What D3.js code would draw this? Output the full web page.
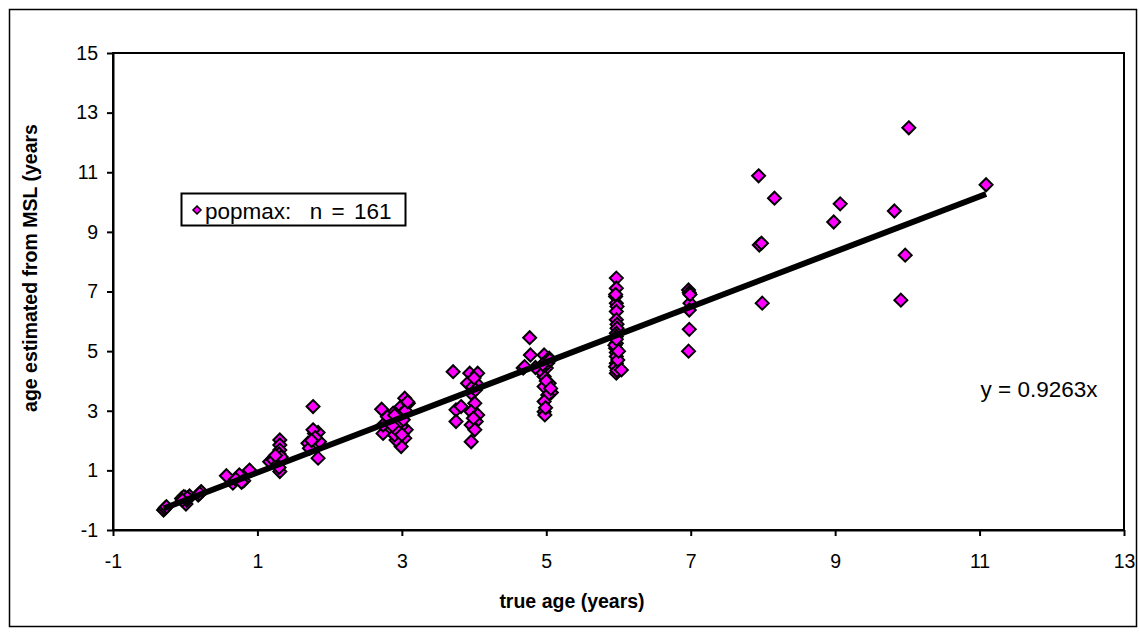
<!DOCTYPE html>
<html>
<head>
<meta charset="utf-8">
<script src="https://cdn.jsdelivr.net/npm/d3@7"></script>
<style>
  html, body { margin: 0; padding: 0; background: #fff; }
  svg { display: block; }
  text { font-family: "Liberation Sans", Arial, sans-serif; fill: #000; }
</style>
</head>
<body>
<svg id="chart" width="1139" height="635"></svg>
<script>
// ---- data ----
const xTicks = [-1, 1, 3, 5, 7, 9, 11, 13];
const yTicks = [-1, 1, 3, 5, 7, 9, 11, 13, 15];
const xDomain = [-1, 13];
const yDomain = [-1, 15];

const trueAge = [
  -0.30, -0.28, -0.26,
  -0.05, -0.03, 0.01, 0.06, 0.00, 0.02, -0.02, 0.04, 0.03, -0.04,
  0.18, 0.22, 0.20,
  0.57, 0.66, 0.75, 0.81, 0.89, 0.70, 0.78,
  1.17, 1.22, 1.22, 1.31, 1.31, 1.31, 1.30, 1.31, 1.31, 1.28, 1.33, 1.25, 1.30,
  1.77, 1.70, 1.79, 1.84, 1.84, 1.86, 1.77, 1.72, 1.80, 1.75,
  2.72, 2.78, 2.83, 2.74, 2.88, 2.95, 2.99, 3.04, 3.09, 2.92, 3.06, 3.04, 2.99, 2.92, 2.90, 2.99, 2.74, 2.85, 3.01,
  2.80, 2.97, 3.02, 2.95, 3.05, 2.87, 3.00, 2.90, 3.08,
  3.71, 3.94, 4.05, 3.91, 4.03, 3.96, 4.01, 3.75, 3.82, 3.75, 3.96, 4.05, 4.03, 3.96, 4.01, 3.96, 3.98, 4.00, 4.02, 3.99,
  4.77, 4.78, 4.68, 4.70, 4.97, 5.04, 5.00, 4.97, 5.04, 4.97, 5.07, 5.02, 4.97, 4.97, 4.98, 4.91, 4.85, 5.02, 5.00, 4.95, 5.05, 5.06, 4.99,
  5.97, 5.97, 5.96, 5.97, 5.98, 5.97, 5.97, 5.98, 5.98, 5.97, 5.97, 5.97, 5.96, 5.97, 5.97, 5.97, 5.96, 5.97, 5.98, 6.04, 5.95, 5.99, 5.96, 6.00, 5.97,
  6.97, 6.98, 6.99, 6.98, 6.98, 6.97, 6.99,
  7.94, 8.16, 7.95, 7.98, 7.99,
  9.07, 8.98,
  9.82, 9.97, 9.91, 10.02,
  11.09
];
const estimatedAge = [
  -0.33, -0.27, -0.22,
  0.06, 0.06, -0.13, 0.14, 0.10, 0.00, 0.12, 0.05, 0.08, 0.00,
  0.17, 0.29, 0.22,
  0.82, 0.57, 0.85, 0.65, 1.01, 0.70, 0.60,
  1.29, 1.40, 1.35, 2.02, 1.85, 1.68, 1.55, 1.35, 0.96, 1.20, 1.45, 1.50, 1.10,
  3.14, 1.91, 2.24, 1.41, 2.27, 1.96, 2.36, 1.74, 2.10, 2.00,
  3.05, 2.47, 2.36, 2.24, 2.92, 2.75, 3.14, 3.42, 3.25, 2.58, 2.36, 2.08, 1.80, 2.02, 2.19, 2.47, 2.52, 2.69, 2.92,
  2.80, 2.60, 2.70, 2.30, 3.00, 2.50, 2.20, 2.85, 3.30,
  4.31, 4.26, 4.26, 3.92, 3.92, 3.59, 3.25, 3.03, 3.14, 2.64, 2.97, 2.86, 2.64, 2.52, 2.36, 1.96, 3.80, 4.10, 3.70, 2.75,
  5.45, 4.87, 4.43, 4.48, 4.87, 4.76, 4.43, 4.15, 3.92, 3.81, 3.61, 3.53, 3.31, 2.97, 2.86, 4.37, 4.45, 4.60, 4.00, 4.55, 4.70, 3.75, 3.10,
  7.45, 7.11, 6.83, 6.61, 6.50, 6.33, 6.05, 5.90, 5.77, 5.60, 5.49, 5.26, 5.10, 4.95, 4.82, 4.59, 4.48, 4.26, 4.35, 4.37, 5.20, 4.70, 6.90, 5.00, 5.40,
  7.05, 6.96, 6.61, 6.38, 5.73, 5.00, 6.90,
  10.88, 10.13, 8.56, 8.62, 6.61,
  9.94, 9.33,
  9.70, 8.22, 6.71, 12.49,
  10.58
];
const slope = 0.9263;
const seriesName = "popmax:  n = 161";
const equationLabel = "y = 0.9263x";
const xTitle = "true age (years)";
const yTitle = "age estimated from MSL (years";

// ---- layout ----
const svg = d3.select("#chart");
const plot = { left: 113, right: 1124, top: 53, bottom: 530 };

const x = d3.scaleLinear().domain(xDomain).range([plot.left, plot.right]);
const y = d3.scaleLinear().domain(yDomain).range([plot.bottom, plot.top]);

// outer chart border
svg.append("rect")
  .attr("x", 9.5).attr("y", 9.5)
  .attr("width", 1127).attr("height", 617)
  .attr("fill", "none").attr("stroke", "#000").attr("stroke-width", 1.5);

// plot area border
svg.append("rect")
  .attr("x", plot.left).attr("y", plot.top)
  .attr("width", plot.right - plot.left).attr("height", plot.bottom - plot.top)
  .attr("fill", "none").attr("stroke", "#000").attr("stroke-width", 2);

// axes
const xAxis = svg.append("g")
  .attr("transform", `translate(0,${plot.bottom})`)
  .call(d3.axisBottom(x).tickValues(xTicks).tickFormat(d3.format("d"))
        .tickSize(6).tickSizeOuter(0).tickPadding(18));
const yAxis = svg.append("g")
  .attr("transform", `translate(${plot.left},0)`)
  .call(d3.axisLeft(y).tickValues(yTicks).tickFormat(d3.format("d"))
        .tickSize(6).tickSizeOuter(0).tickPadding(9));

[xAxis, yAxis].forEach(g => {
  g.select(".domain").attr("stroke", "#000").attr("stroke-width", 2);
  g.selectAll(".tick line").attr("stroke", "#000").attr("stroke-width", 2);
  g.selectAll(".tick text")
    .attr("font-family", "Liberation Sans, Arial, sans-serif")
    .attr("font-size", 19.5).attr("fill", "#000");
});
yAxis.selectAll(".tick text").text(d => d < 0 ? "-" + Math.abs(d) : d);
xAxis.selectAll(".tick text").text(d => d < 0 ? "-" + Math.abs(d) : d);

// axis titles
svg.append("text")
  .attr("x", 572).attr("y", 608)
  .attr("text-anchor", "middle")
  .attr("font-size", 19.5).attr("font-weight", "bold")
  .text(xTitle);

svg.append("text")
  .attr("transform", `translate(37,268) rotate(-90)`)
  .attr("text-anchor", "middle")
  .attr("font-size", 19.5).attr("font-weight", "bold")
  .text(yTitle);

// points
const pts = trueAge.map((d, i) => ({ x: d, y: estimatedAge[i] }));
const diamond = (cx, cy, w, h) => `M${cx},${cy - h}L${cx + w},${cy}L${cx},${cy + h}L${cx - w},${cy}Z`;

svg.append("g").selectAll("path")
  .data(pts).enter().append("path")
  .attr("d", d => diamond(x(d.x), y(d.y), 6.5, 6.5))
  .attr("fill", "#FF00FF")
  .attr("stroke", "#000").attr("stroke-width", 2);

// trendline y = slope * x through origin, across data range
const xMin = d3.min(trueAge), xMax = d3.max(trueAge);
svg.append("line")
  .attr("x1", x(xMin)).attr("y1", y(slope * xMin))
  .attr("x2", x(xMax)).attr("y2", y(slope * xMax))
  .attr("stroke", "#000").attr("stroke-width", 6);

// equation label
svg.append("text")
  .attr("x", 1039).attr("y", 397)
  .attr("text-anchor", "middle")
  .attr("font-size", 22.5)
  .text(equationLabel);

// legend
const lg = svg.append("g");
lg.append("rect")
  .attr("x", 181.5).attr("y", 193.5).attr("width", 224).attr("height", 32)
  .attr("fill", "#fff").attr("stroke", "#000").attr("stroke-width", 2);
lg.append("path")
  .attr("d", diamond(197, 210, 4, 4))
  .attr("fill", "#FF00FF").attr("stroke", "#000").attr("stroke-width", 1.5);
lg.append("text")
  .attr("x", 205).attr("y", 218.5)
  .attr("font-size", 22.5)
  .attr("word-spacing", 3)
  .attr("xml:space", "preserve")
  .style("white-space", "pre")
  .text(seriesName);
</script>
</body>
</html>
